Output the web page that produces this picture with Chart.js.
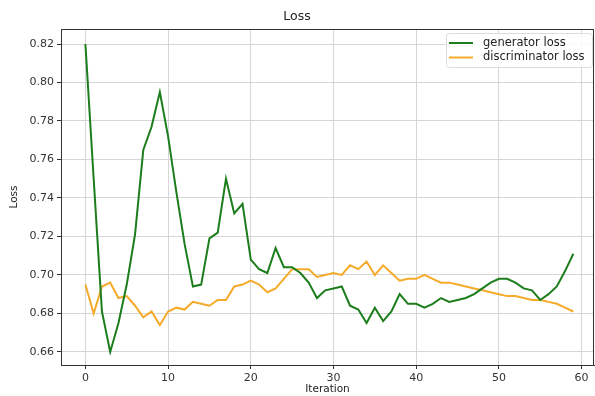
<!DOCTYPE html>
<html>
<head>
<meta charset="utf-8">
<script src="https://cdn.jsdelivr.net/npm/chart.js@4"></script>
<style>
  html, body { margin: 0; padding: 0; background: #fff; overflow: hidden; }
  #wrap { width: 595px; height: 396px; position: relative; }
</style>
</head>
<body>
<div id="wrap"><canvas id="loss-chart"></canvas></div>
<script>
// values
const iterations = Array.from({length: 60}, (_, i) => i);
const generatorLoss = [
  0.820, 0.750, 0.681, 0.660, 0.675, 0.695, 0.721, 0.765, 0.777, 0.795,
  0.772, 0.743, 0.716, 0.694, 0.695, 0.719, 0.722, 0.750, 0.732, 0.737,
  0.708, 0.703, 0.701, 0.714, 0.704, 0.704, 0.701, 0.696, 0.688, 0.692,
  0.693, 0.694, 0.684, 0.682, 0.675, 0.683, 0.676, 0.681, 0.690, 0.685,
  0.685, 0.683, 0.685, 0.688, 0.686, 0.687, 0.688, 0.690, 0.693, 0.696,
  0.698, 0.698, 0.696, 0.693, 0.692, 0.687, 0.690, 0.694, 0.702, 0.711
];
const discriminatorLoss = [
  0.695, 0.680, 0.694, 0.696, 0.688, 0.689, 0.684, 0.678, 0.681, 0.674,
  0.681, 0.683, 0.682, 0.686, 0.685, 0.684, 0.687, 0.687, 0.694, 0.695,
  0.697, 0.695, 0.691, 0.693, 0.698, 0.703, 0.703, 0.703, 0.699, 0.700,
  0.701, 0.700, 0.705, 0.703, 0.707, 0.700, 0.705, 0.701, 0.697, 0.698,
  0.698, 0.700, 0.698, 0.696, 0.696, 0.695, 0.694, 0.693, 0.692, 0.691,
  0.690, 0.689, 0.689, 0.688, 0.687, 0.687, 0.686, 0.685, 0.683, 0.681
];
const xTicks = [0, 10, 20, 30, 40, 50, 60];
const yTicks = [0.66, 0.68, 0.70, 0.72, 0.74, 0.76, 0.78, 0.80, 0.82];

const FONT = "'DejaVu Sans', sans-serif";
const GREEN = '#1c7d1c';
const ORANGE = '#f5aa2a';

// frame round the plot and the legend box in the top right corner
const framePlugin = {
    id: 'frame',
    afterDraw(chart) {
        const ctx = chart.ctx;
        const a = chart.chartArea;
        ctx.save();
        ctx.strokeStyle = '#333';
        ctx.lineWidth = 1;
        ctx.strokeRect(a.left + 0.5, a.top + 0.5, a.right - a.left - 1, a.bottom - a.top);

        // legend
        const bx = 446, by = 33, bw = 146, bh = 34;
        ctx.fillStyle = 'rgba(255,255,255,0.85)';
        ctx.strokeStyle = '#dcdcdc';
        ctx.beginPath();
        ctx.roundRect(bx + 0.5, by + 0.5, bw, bh, 3);
        ctx.fill();
        ctx.stroke();
        ctx.font = '11.5px ' + FONT;
        ctx.textBaseline = 'middle';
        chart.data.datasets.forEach((ds, i) => {
            const y = by + 10 + i * 14.5;
            ctx.strokeStyle = ds.borderColor;
            ctx.lineWidth = 2;
            ctx.beginPath();
            ctx.moveTo(bx + 3, y);
            ctx.lineTo(bx + 27, y);
            ctx.stroke();
            ctx.fillStyle = '#222';
            ctx.fillText(ds.label, bx + 37, y);
        });
        ctx.restore();
    }
};

const ctx = document.getElementById('loss-chart');
new Chart(ctx, {
    type: 'line',
    data: {
        labels: iterations,
        datasets: [{
            label: 'generator loss',
            data: iterations.map((x, i) => ({x: x, y: generatorLoss[i]})),
            borderColor: GREEN,
            borderWidth: 2,
            pointRadius: 0,
            tension: 0
        }, {
            label: 'discriminator loss',
            data: iterations.map((x, i) => ({x: x, y: discriminatorLoss[i]})),
            borderColor: ORANGE,
            borderWidth: 2,
            pointRadius: 0,
            tension: 0
        }]
    },
    options: {
        responsive: true,
        maintainAspectRatio: false,
        animation: false,
        layout: { padding: { left: 0, right: 1, top: 0, bottom: 0 } },
        plugins: {
            legend: { display: false },
            tooltip: { enabled: false },
            title: {
                display: true,
                text: 'Loss',
                color: '#222',
                font: { family: FONT, size: 12.5, weight: 'normal' },
                padding: { top: 9, bottom: 5 }
            }
        },
        scales: {
            x: {
                type: 'linear',
                min: -2.95,
                max: 61.5,
                afterBuildTicks(scale) { scale.ticks = xTicks.map(v => ({value: v})); },
                afterFit(scale) { scale.height = 31; },
                ticks: {
                    color: '#333',
                    font: { family: FONT, size: 11 },
                    padding: 3,
                    maxRotation: 0
                },
                grid: { color: '#d6d6d6', lineWidth: 1, tickColor: '#333', tickLength: 4 },
                border: { color: '#333' },
                title: {
                    display: true,
                    text: 'Iteration',
                    color: '#222',
                    font: { family: FONT, size: 10.5 },
                    padding: { top: 2, bottom: 0 }
                }
            },
            y: {
                type: 'linear',
                min: 0.6532,
                max: 0.8278,
                afterBuildTicks(scale) { scale.ticks = yTicks.map(v => ({value: v})); },
                afterFit(scale) { scale.width = 61; },
                ticks: {
                    color: '#333',
                    font: { family: FONT, size: 11 },
                    padding: 3,
                    callback: v => v.toFixed(2)
                },
                grid: { color: '#d6d6d6', lineWidth: 1, tickColor: '#333', tickLength: 4 },
                border: { color: '#333' },
                title: {
                    display: true,
                    text: 'Loss',
                    color: '#222',
                    font: { family: FONT, size: 10.5 },
                    padding: { top: 8, bottom: 4 }
                }
            }
        }
    },
    plugins: [framePlugin]
});
</script>
</body>
</html>
